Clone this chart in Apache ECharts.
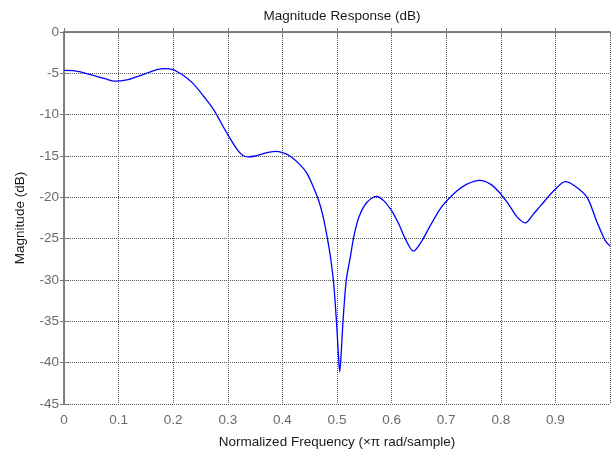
<!DOCTYPE html>
<html>
<head>
<meta charset="utf-8">
<script src="https://cdn.jsdelivr.net/npm/echarts@6/dist/echarts.min.js"></script>
<style>
  html, body { margin: 0; padding: 0; background: #fff; }
  #chart { width: 614px; height: 454px; }
</style>
</head>
<body>
<div id="chart"></div>
<script>
// normalized frequency (x pi rad/sample)
const freq = [0, 0.02, 0.054, 0.075, 0.094, 0.115, 0.134, 0.155, 0.17, 0.185, 0.2,
  0.21, 0.219, 0.2375, 0.256, 0.274, 0.299, 0.317, 0.327, 0.338, 0.35, 0.365,
  0.387, 0.4, 0.415, 0.433, 0.445, 0.457, 0.466, 0.4745, 0.482, 0.488, 0.494,
  0.499, 0.503, 0.505, 0.508, 0.511, 0.517, 0.5245, 0.5306, 0.54, 0.555, 0.572,
  0.5855, 0.6, 0.613, 0.625, 0.64, 0.656, 0.671, 0.689, 0.7, 0.72, 0.738, 0.761,
  0.781, 0.8, 0.818, 0.83, 0.845, 0.86, 0.873, 0.9, 0.918, 0.935, 0.958, 0.975,
  0.991, 1.0];
// magnitude (dB)
const magnitude = [-4.65, -4.7, -5.26, -5.65, -5.95, -5.8, -5.4, -4.9, -4.55, -4.43, -4.55,
  -4.9, -5.26, -6.3, -7.8, -9.4, -12.3, -14.2, -14.9, -15.1, -15.0, -14.7,
  -14.45, -14.6, -15.05, -16.1, -17.1, -18.8, -20.3, -22.3, -24.8, -27.2, -30.5,
  -35, -39.5, -41.1, -38.5, -35, -30, -27.2, -24.8, -22.4, -20.6, -19.9,
  -20.4, -21.6, -23.2, -25.0, -26.5, -25.2, -23.4, -21.4, -20.5, -19.2, -18.4, -17.95,
  -18.4, -19.6, -21.2, -22.4, -23.1, -22.0, -21.0, -19.0, -18.1, -18.6, -20.0, -22.8,
  -25.2, -25.9];

const chart = echarts.init(document.getElementById("chart"));
const font = "Liberation Sans";
const fs = 13.5;
const frameColor = "#7a7a7a";
const gridLine = { show: true, lineStyle: { color: "#5a5a5a", type: [1, 1], width: 1 } };

chart.setOption({
  animation: false,
  title: {
    text: "Magnitude Response (dB)",
    left: 337, top: 4, textAlign: "center",
    textStyle: { fontFamily: font, fontSize: fs, fontWeight: "normal", color: "#1a1a1a" },
  },
  grid: { left: 64, right: 4, top: 32, bottom: 50 },
  xAxis: [
    {
      type: "value", min: 0, max: 1, interval: 0.1,
      name: "Normalized Frequency (\u00d7\u03c0 rad/sample)",
      nameLocation: "middle", nameGap: 31,
      nameTextStyle: { fontFamily: font, fontSize: fs, color: "#1a1a1a" },
      axisLine: { lineStyle: { color: frameColor, width: 1.5 } },
      axisTick: { inside: true, length: 4, lineStyle: { color: frameColor } },
      axisLabel: { showMaxLabel: false, fontFamily: font, fontSize: fs, color: "#6a6a6a", margin: 9 },
      splitLine: gridLine,
    },
    {
      type: "value", min: 0, max: 1, interval: 0.1, position: "top",
      axisLine: { show: true, lineStyle: { color: frameColor, width: 1.5 } },
      axisTick: { inside: true, length: 4, lineStyle: { color: frameColor } },
      axisLabel: { show: false }, splitLine: { show: false },
    },
  ],
  yAxis: [
    {
      type: "value", min: -45, max: 0, interval: 5,
      name: "Magnitude (dB)", nameLocation: "middle", nameGap: 37,
      nameTextStyle: { fontFamily: font, fontSize: fs, color: "#1a1a1a" },
      axisLine: { show: true, lineStyle: { color: frameColor, width: 1.5 } },
      axisTick: { show: true, inside: true, length: 4, lineStyle: { color: frameColor } },
      axisLabel: { fontFamily: font, fontSize: fs, color: "#6a6a6a", margin: 5 },
      splitLine: gridLine,
    },
    {
      type: "value", min: -45, max: 0, interval: 5, position: "right",
      axisLine: { show: true, lineStyle: { color: frameColor, width: 1.5 } },
      axisTick: { show: true, inside: true, length: 4, lineStyle: { color: frameColor } },
      axisLabel: { show: false }, splitLine: { show: false },
    },
  ],
  series: [{
    type: "line",
    data: freq.map((f, i) => [f, magnitude[i]]),
    showSymbol: false,
    smooth: 0.3,
    lineStyle: { color: "#0000ff", width: 1.3 },
  }],
});
</script>
</body>
</html>
